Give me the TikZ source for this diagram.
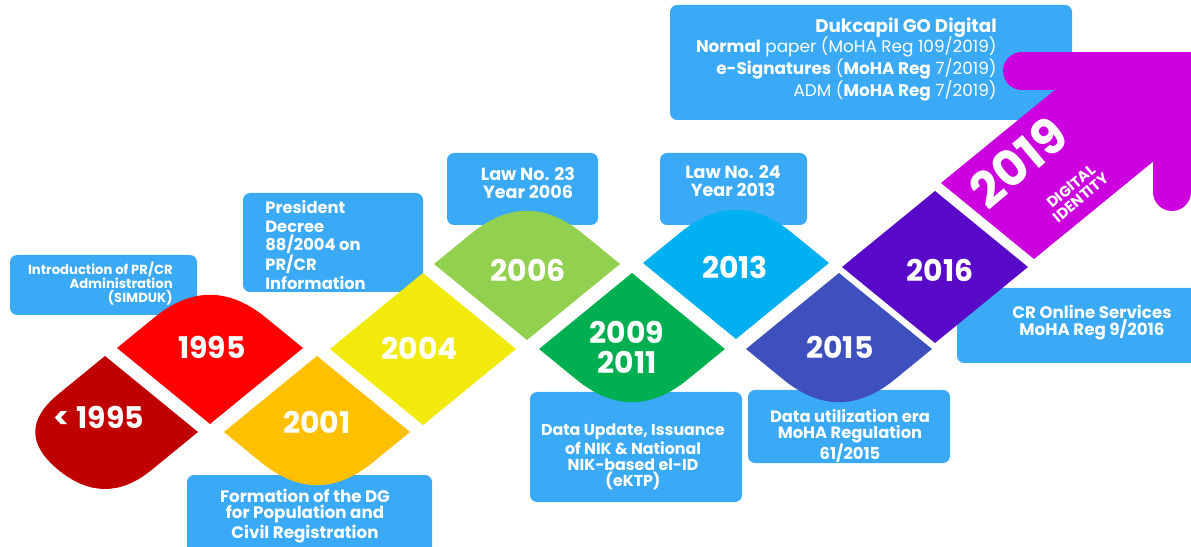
\documentclass[tikz,border=0pt]{standalone}
\usepackage{fontspec}
\setmainfont{Poppins}
\definecolor{boxblue}{RGB}{58,170,246}
\definecolor{cpre}{RGB}{192,0,0}
\definecolor{cA}{RGB}{255,0,0}
\definecolor{cB}{RGB}{255,192,0}
\definecolor{cC}{RGB}{242,234,10}
\definecolor{cD}{RGB}{146,208,80}
\definecolor{cE}{RGB}{0,176,80}
\definecolor{cF}{RGB}{0,176,240}
\definecolor{cG}{RGB}{62,80,190}
\definecolor{cH}{RGB}{88,10,200}
\definecolor{cI}{RGB}{204,0,222}
\begin{document}
\begin{tikzpicture}[x=0.02cm,y=-0.02cm,
    box/.style={fill=boxblue,rounded corners=4pt},
    notelbl/.style={text=white,inner sep=0pt,align=center,font=\bfseries\fontsize{9.3}{9.2}\selectfont},
    yearlbl/.style={text=white,inner sep=0pt,align=center,font=\bfseries\fontsize{17}{17}\selectfont}]
  \fill[white] (0,0) rectangle (1191,547);
  \clip (0,0) rectangle (1191,547);
  \fill[box] (10,255) rectangle (197,315);
  \fill[box] (243,193) rectangle (423,292);
  \fill[box] (447,153) rectangle (598,225);
  \fill[box] (660,153) rectangle (807,225);
  \fill[box] (187,475) rectangle (432,560);
  \fill[box] (530,392) rectangle (742,502);
  \fill[box] (748,390) rectangle (950,463);
  \fill[box] (957,288) rectangle (1210,363);
  \fill[box] (670,5) rectangle (1072,120);
  \node[notelbl,anchor=east,align=right,font=\bfseries\fontsize{7.5}{8}\selectfont] (n0) at (173,284)
    {Introduction of PR/CR\\Administration\\(SIMDUK)};
  \node[notelbl,anchor=west,align=left,font=\bfseries\fontsize{9.3}{10.5}\selectfont] (n1) at (265,245)
    {President\\Decree\\88/2004 on\\PR/CR\\Information};
  \node[notelbl,font=\bfseries\fontsize{10}{9.8}\selectfont] (n2) at (528,183) {Law No. 23\\Year 2006};
  \node[notelbl,font=\bfseries\fontsize{10}{9.8}\selectfont] (n3) at (733,181) {Law No. 24\\Year 2013};
  \node[notelbl,font=\bfseries\fontsize{9.5}{9.3}\selectfont] (n4) at (305,516) {Formation of the DG\\for Population and\\Civil Registration};
  \node[notelbl,font=\bfseries\fontsize{9}{9.3}\selectfont] (n5) at (633,457) {Data Update, Issuance\\of NIK \& National\\NIK-based el-ID\\(eKTP)};
  \node[notelbl] (n6) at (850,436) {Data utilization era\\MoHA Regulation\\61/2015};
  \node[notelbl,font=\bfseries\fontsize{9.5}{9.6}\selectfont] (n7) at (1092,323) {CR Online Services\\MoHA Reg 9/2016};
  \node[notelbl,anchor=east,font=\bfseries\fontsize{10.4}{12}\selectfont] (n8) at (997,28) {Dukcapil GO Digital};
  \node[notelbl,anchor=east,align=right,font=\fontsize{9.6}{9.4}\selectfont] (n9) at (997,69)
    {\textbf{Normal} paper (MoHA Reg 109/2019)\\\textbf{e-Signatures} (\textbf{MoHA Reg} 7/2019)\\ADM (\textbf{MoHA Reg} 7/2019)};
  \fill[cpre,shift={(105,432)}] (0,-76) -- (93,0) -- (46.5,38) .. controls (15.5,63.3) and (-15.5,63.3) .. (-46.5,38)
    .. controls (-77.5,12.7) and (-77.5,-12.7) .. (-46.5,-38) -- cycle;
  \fill[cA,shift={(210,348)}] (-93,0) -- (-55.8,-30.4) .. controls (-18.6,-60.8) and (18.6,-60.8) .. (55.8,-30.4) -- (93,0) -- (0,76) -- cycle;
  \fill[cB,shift={(317,432)}] (-93,0) -- (0,-76) -- (93,0) -- (55.8,30.4) .. controls (18.6,60.8) and (-18.6,60.8) .. (-55.8,30.4) -- cycle;
  \fill[cC,shift={(423,349)}] (-93,0) -- (0,-76) -- (93,0) -- (0,76) -- cycle;
  \fill[cD,shift={(527,264)}] (-93,0) -- (-55.8,-30.4) .. controls (-18.6,-60.8) and (18.6,-60.8) .. (55.8,-30.4) -- (93,0) -- (0,76) -- cycle;
  \fill[cE,shift={(632,349)}] (-93,0) -- (0,-76) -- (93,0) -- (55.8,30.4) .. controls (18.6,60.8) and (-18.6,60.8) .. (-55.8,30.4) -- cycle;
  \fill[cF,shift={(736,263)}] (-93,0) -- (-55.8,-30.4) .. controls (-18.6,-60.8) and (18.6,-60.8) .. (55.8,-30.4) -- (93,0) -- (0,76) -- cycle;
  \fill[cG,shift={(839,349)}] (-93,0) -- (0,-76) -- (93,0) -- (55.8,30.4) .. controls (18.6,60.8) and (-18.6,60.8) .. (-55.8,30.4) -- cycle;
  \fill[cH,shift={(935,267)}] (-93,0) -- (0,-76) -- (93,0) -- (0,76) -- cycle;
  \fill[cI] (941,183) -- (1054.8,90) -- (1172,71) -- (1153,161.7) -- (1034,259) -- cycle;
  \draw[cI,line width=0.76cm,line cap=round,line join=miter] (1022,71) -- (1172,71) -- (1172,192);
  \node[yearlbl] (y0) at (99,417) {< 1995};
  \node[yearlbl] (y1) at (212,347) {1995};
  \node[yearlbl] (y2) at (317,422) {2001};
  \node[yearlbl] (y3) at (420,348) {2004};
  \node[yearlbl] (y4) at (528,270) {2006};
  \node[yearlbl] (y5) at (627,347) {2009\\2011};
  \node[yearlbl] (y6) at (735,267) {2013};
  \node[yearlbl] (y7) at (840,347) {2015};
  \node[yearlbl] (y8) at (940,270) {2016};
  \node[yearlbl,rotate=40,font=\bfseries\fontsize{28}{28}\selectfont] (y9) at (1018,162) {2019};
  \node[yearlbl,rotate=40,font=\bfseries\fontsize{8.5}{8.5}\selectfont] (y10) at (1076,192) {DIGITAL\\IDENTITY};
\end{tikzpicture}
\end{document}
